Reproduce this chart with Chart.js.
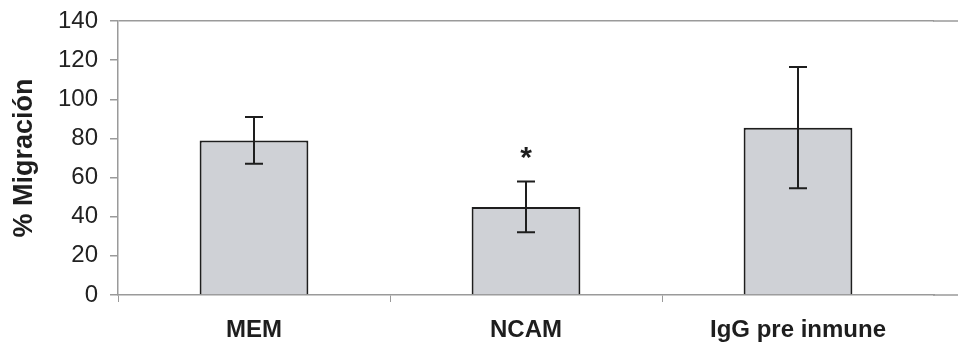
<!DOCTYPE html>
<html>
<head>
<meta charset="utf-8">
<script src="https://cdn.jsdelivr.net/npm/chart.js@4"></script>
<style>
  html, body { margin: 0; padding: 0; background: #fff; overflow: hidden; }
  #wrap { width: 958px; height: 346px; }
</style>
</head>
<body>
<div id="wrap"><canvas id="chart" width="958" height="346"></canvas></div>
<script>
const categories = ["MEM", "NCAM", "IgG pre inmune"]
const migration = [79, 45, 85.5]
const errors = [12, 13, 31]
const marks = ["", "*", ""]
const yTicks = [0, 20, 40, 60, 80, 100, 120, 140]

const axisGray = "#9a9a9a"
const inkColor = "#1e1e1e"
const fontFamily = "'Liberation Sans', Arial, sans-serif"

// error bars + significance marks
const errorBars = {
  id: "errorBars",
  afterDatasetsDraw(chart) {
    const ctx = chart.ctx
    const y = chart.scales.y
    const meta = chart.getDatasetMeta(0)
    ctx.save()
    ctx.strokeStyle = inkColor
    ctx.lineWidth = 2
    meta.data.forEach((bar, i) => {
      const top = y.getPixelForValue(migration[i] + errors[i])
      const bottom = y.getPixelForValue(migration[i] - errors[i])
      ctx.beginPath()
      ctx.moveTo(bar.x, top)
      ctx.lineTo(bar.x, bottom)
      ctx.moveTo(bar.x - 9, top)
      ctx.lineTo(bar.x + 9, top)
      ctx.moveTo(bar.x - 9, bottom)
      ctx.lineTo(bar.x + 9, bottom)
      ctx.stroke()
      if (marks[i]) {
        ctx.fillStyle = inkColor
        ctx.font = "bold 30px " + fontFamily
        ctx.textAlign = "center"
        ctx.textBaseline = "alphabetic"
        ctx.fillText(marks[i], bar.x, top - 14)
      }
    })
    ctx.restore()
  }
}

// the original plot runs off the right edge, so carry the frame lines on
const frameRun = {
  id: "frameRun",
  afterDraw(chart) {
    const ctx = chart.ctx
    const y = chart.scales.y
    const area = chart.chartArea
    ctx.save()
    ctx.strokeStyle = axisGray
    ctx.lineWidth = 1.5
    ;[yTicks[yTicks.length - 1], yTicks[0]].forEach((v) => {
      const py = y.getPixelForValue(v)
      ctx.beginPath()
      ctx.moveTo(area.right - 1, py)
      ctx.lineTo(chart.width, py)
      ctx.stroke()
    })
    ctx.restore()
  }
}

new Chart(document.getElementById("chart"), {
  type: "bar",
  data: {
    labels: categories,
    datasets: [{
      data: migration,
      backgroundColor: "#cfd1d6",
      borderColor: inkColor,
      borderWidth: 2,
      barPercentage: 0.4,
      categoryPercentage: 1
    }]
  },
  options: {
    responsive: false,
    animation: false,
    layout: { padding: { top: 21, right: 24, bottom: 0, left: 0 } },
    plugins: { legend: { display: false }, tooltip: { enabled: false } },
    scales: {
      x: {
        offset: true,
        border: { display: true, color: axisGray, width: 1.5 },
        grid: {
          offset: true,
          drawOnChartArea: false,
          drawTicks: true,
          tickLength: 7,
          tickColor: (c) => (c.tick ? axisGray : "rgba(0,0,0,0)")
        },
        ticks: {
          color: inkColor,
          padding: 14,
          font: { family: fontFamily, size: 24, weight: "bold" }
        },
        afterFit(scale) {
          scale.height = 51
          scale.paddingLeft = 0
          scale.paddingRight = 0
        }
      },
      y: {
        min: 0,
        max: 140,
        afterBuildTicks(scale) { scale.ticks = yTicks.map((v) => ({ value: v })) },
        border: { display: true, color: axisGray, width: 1.5 },
        grid: {
          color: (c) => (c.tick && c.tick.value === 140 ? axisGray : "rgba(0,0,0,0)"),
          lineWidth: 1.5,
          tickLength: 8,
          tickColor: axisGray
        },
        ticks: {
          color: "#222",
          padding: 12,
          font: { family: fontFamily, size: 24 }
        },
        title: {
          display: true,
          text: "% Migración",
          color: inkColor,
          padding: { top: 8, bottom: 0 },
          font: { family: fontFamily, size: 27, weight: "bold" }
        },
        afterFit(scale) {
          scale.width = 118
          scale.paddingTop = 0
          scale.paddingBottom = 0
        }
      }
    }
  },
  plugins: [errorBars, frameRun]
})
</script>
</body>
</html>
